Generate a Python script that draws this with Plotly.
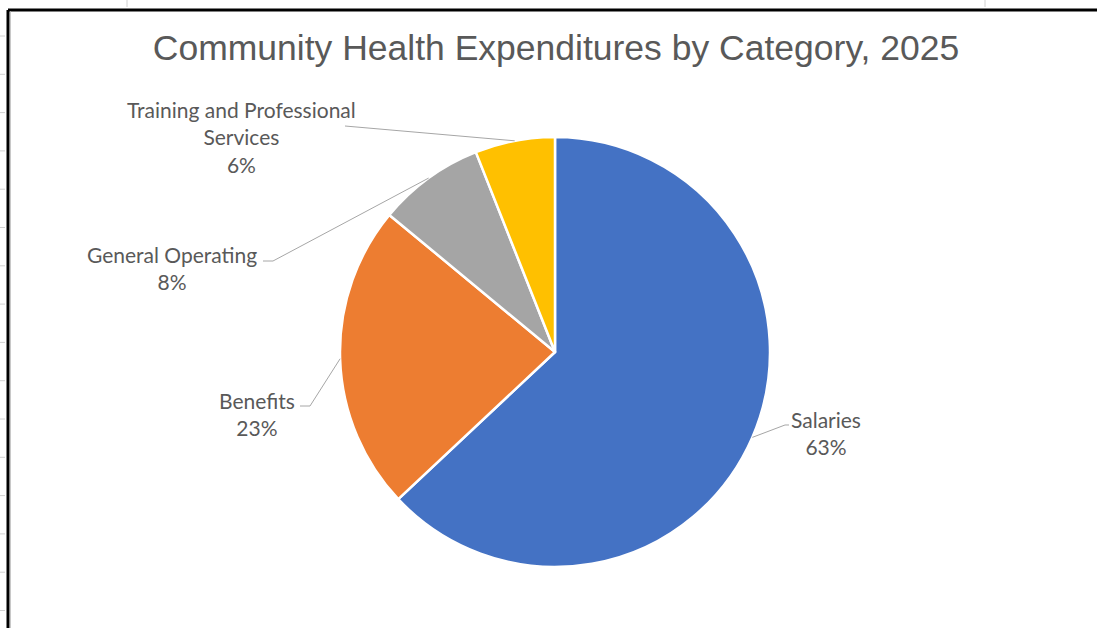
import math
import plotly.graph_objects as go

# Expenditure shares by category (percent of total), clockwise from 12 o'clock
categories = ["Salaries", "Benefits", "General Operating", "Training and Professional<br>Services"]
shares = [63, 23, 8, 6]
colors = ["#4472C4", "#ED7D31", "#A5A5A5", "#FFC000"]

W, H = 1097, 628
CX, CY, R = 555, 352, 215  # pie centre and radius in pixels

# label block centres and leader-line anchor points (pixels)
label_pos = [(826, 433), (257, 414), (172, 268), (241, 137)]
leader_start = [[(789, 425), (785, 425)],
                [(300, 406), (310, 406)],
                [(263, 261), (273, 261)],
                [(345, 126)]]


def px(x):
    return x / W


def py(y):
    return 1 - y / H


fig = go.Figure(go.Pie(
    labels=[c.replace("<br>", " ") for c in categories],
    values=shares,
    sort=False,
    direction="clockwise",
    rotation=0,
    marker=dict(colors=colors, line=dict(color="white", width=2.5)),
    textinfo="none",
    hoverinfo="label+percent",
    showlegend=False,
    domain=dict(x=[px(CX - R), px(CX + R)], y=[py(CY + R), py(CY - R)]),
))

shapes = []
annotations = []
total = sum(shares)
cum = 0
for cat, v, (lx, ly), pts in zip(categories, shares, label_pos, leader_start):
    mid = (cum + v / 2) / total * 2 * math.pi
    cum += v
    ex, ey = CX + R * math.sin(mid), CY - R * math.cos(mid)
    path_pts = pts + [(ex, ey)]
    path = "M " + " L ".join(f"{px(x):.5f},{py(y):.5f}" for x, y in path_pts)
    shapes.append(dict(type="path", xref="paper", yref="paper", path=path,
                       line=dict(color="#A6A6A6", width=1)))
    annotations.append(dict(
        x=px(lx), y=py(ly), xref="paper", yref="paper",
        text=f"{cat}<br>{round(v / total * 100)}%",
        showarrow=False, xanchor="center", yanchor="middle", align="center",
        font=dict(family="Lato, Carlito, sans-serif", size=21, color="#595959"),
    ))

# sheet frame: thick black border on the left and top
shapes.append(dict(type="line", xref="paper", yref="paper",
                   x0=px(8), x1=px(8), y0=py(10), y1=0,
                   line=dict(color="black", width=3)))
shapes.append(dict(type="line", xref="paper", yref="paper",
                   x0=px(8), x1=1, y0=py(10), y1=py(10),
                   line=dict(color="black", width=3)))
shapes.append(dict(type="line", xref="paper", yref="paper",
                   x0=px(10.5), x1=px(10.5), y0=py(11.5), y1=0,
                   line=dict(color="#C8C8C8", width=1)))
# faint spreadsheet row ticks left of the frame
for i in range(17):
    yy = 36 + i * 38.3
    if yy > H:
        break
    shapes.append(dict(type="line", xref="paper", yref="paper",
                       x0=0, x1=px(5), y0=py(yy), y1=py(yy),
                       line=dict(color="#D0D0D0", width=1)))
for xx in (127, 985):
    shapes.append(dict(type="line", xref="paper", yref="paper",
                       x0=px(xx), x1=px(xx), y0=1, y1=py(7),
                       line=dict(color="#D0D0D0", width=1)))

fig.update_layout(
    width=W, height=H,
    margin=dict(l=0, r=0, t=0, b=0),
    paper_bgcolor="white",
    plot_bgcolor="white",
    title=dict(text="Community Health Expenditures by Category, 2025",
               x=px(556), y=py(48), xanchor="center", yanchor="middle",
               font=dict(family="Liberation Sans, Arial, sans-serif", size=35.5, color="#595959")),
    shapes=shapes,
    annotations=annotations,
)

fig.write_html("out.html")
